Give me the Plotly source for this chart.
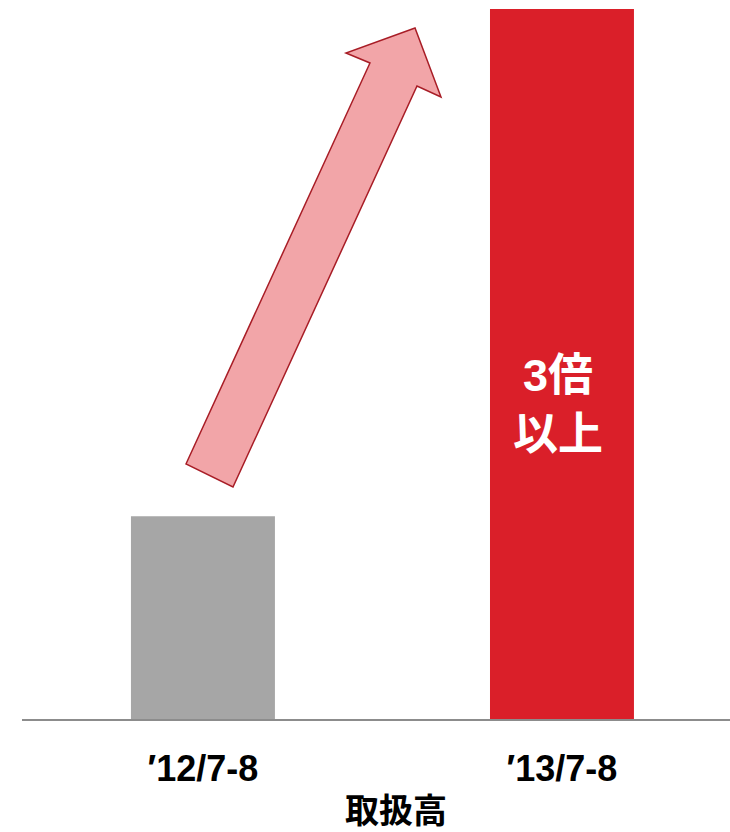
import plotly.graph_objects as go

# Data
periods = ["′12/7-8", "′13/7-8"]
volumes = [100, 350]          # handling volume index
bar_colors = ["#A6A6A6", "#DA1F29"]
axis_title = "取扱高"
bar_note = "3倍<br>以上"

W, H = 730, 832
ML, MR, MT, MB = 22, 0, 0, 113
plot_w = W - ML - MR
plot_h = H - MT - MB


def to_paper(px, py):
    return (px - ML) / plot_w, (H - MB - py) / plot_h


# Decorative up-arrow outline (pixel points of the figure)
arrow_px = [(186, 464), (370, 63), (346, 53), (415, 28),
            (441, 97), (417, 86), (233, 487)]
pts = [to_paper(x, y) for x, y in arrow_px]
arrow_path = "M " + " L ".join(f"{x:.4f},{y:.4f}" for x, y in pts) + " Z"

fig = go.Figure(
    go.Bar(
        x=[0, 1],
        y=volumes,
        width=0.401,
        marker=dict(color=bar_colors, line=dict(width=0)),
        hoverinfo="skip",
    )
)

fig.add_shape(
    type="path",
    path=arrow_path,
    xref="paper",
    yref="paper",
    fillcolor="#F2A5A8",
    line=dict(color="#A81D26", width=1.5),
    layer="above",
)

fig.add_annotation(
    x=0.99, y=volumes[1] * 0.442, xref="x", yref="y",
    text=bar_note, showarrow=False,
    font=dict(family="Liberation Sans, Noto Sans CJK JP", size=45, color="white", weight="bold"),
    align="center",
)

fig.add_annotation(
    x=(396 - ML) / plot_w, y=-(808 - (H - MB)) / plot_h,
    xref="paper", yref="paper",
    text=axis_title, showarrow=False,
    font=dict(family="Noto Sans CJK JP", size=34, color="black", weight="bold"),
    yanchor="middle", borderpad=0,
)

fig.update_layout(
    width=W, height=H,
    margin=dict(l=ML, r=MR, t=MT, b=MB, pad=0),
    paper_bgcolor="white",
    plot_bgcolor="white",
    showlegend=False,
    xaxis=dict(
        range=[-0.504, 1.468],
        tickmode="array",
        tickvals=[0, 1],
        ticktext=periods,
        tickfont=dict(family="Liberation Sans, Arial", size=36, color="black", weight="bold"),
        ticks="",
        ticklabelstandoff=17,
        showgrid=False,
        zeroline=False,
        showline=True,
        linecolor="#8C8C8C",
        linewidth=2,
        fixedrange=True,
    ),
    yaxis=dict(
        range=[0, 350 * plot_h / 710],
        visible=False,
        showgrid=False,
        zeroline=False,
        fixedrange=True,
    ),
)

fig.write_html("out.html")
